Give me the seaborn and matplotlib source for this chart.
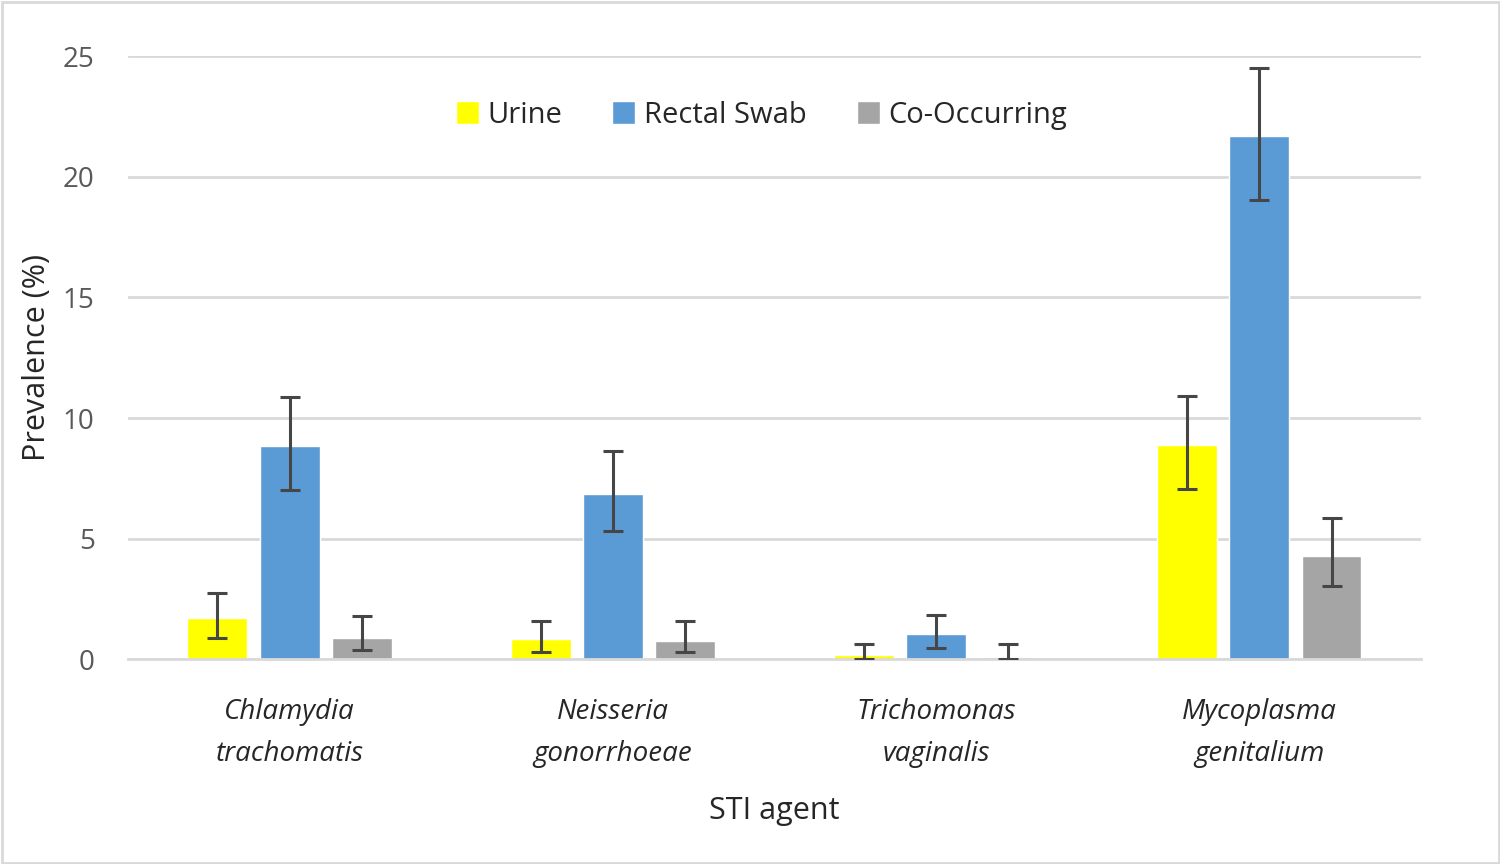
import numpy as np
import pandas as pd
import matplotlib.pyplot as plt
import seaborn as sns
from matplotlib.patches import Rectangle

# Données
agents = ["Chlamydia\ntrachomatis", "Neisseria\ngonorrhoeae", "Trichomonas\nvaginalis", "Mycoplasma\ngenitalium"]
groupes = ["Urine", "Rectal Swab", "Co-Occurring"]

urine = [1.7, 0.85, 0.18, 8.9]
rectal = [8.85, 6.85, 1.05, 21.7]
co_occ = [0.9, 0.75, 0.08, 4.3]

# bornes des intervalles (basse, haute)
urine_lo = [0.9, 0.3, 0.0, 7.05]
urine_hi = [2.75, 1.6, 0.65, 10.9]
rectal_lo = [7.0, 5.3, 0.45, 19.05]
rectal_hi = [10.85, 8.65, 1.85, 24.5]
co_lo = [0.4, 0.3, 0.0, 3.05]
co_hi = [1.8, 1.6, 0.65, 5.85]

couleurs = ["#FFFF00", "#5B9BD5", "#A5A5A5"]

df = pd.DataFrame({
    "agent": agents * 3,
    "groupe": np.repeat(groupes, 4),
    "valeur": urine + rectal + co_occ,
    "lo": urine_lo + rectal_lo + co_lo,
    "hi": urine_hi + rectal_hi + co_hi,
})

sns.set_style("white")
plt.rcParams['font.family'] = ['Open Sans', 'DejaVu Sans']

fig, ax = plt.subplots(figsize=(15, 8.64), dpi=100)
fig.subplots_adjust(left=0.0853, right=0.9473, top=0.935, bottom=0.237)

sns.barplot(data=df, x="agent", y="valeur", hue="groupe", hue_order=groupes,
            palette=couleurs, width=0.67, gap=0.17, errorbar=None, ax=ax,
            saturation=1, legend=True)

# barres d'erreur asymétriques
for i, g in enumerate(groupes):
    cont = ax.containers[i]
    sub = df[df["groupe"] == g]
    for bar, (_, row) in zip(cont, sub.iterrows()):
        xc = bar.get_x() + bar.get_width() / 2
        ax.errorbar(xc, row["valeur"],
                    yerr=[[row["valeur"] - row["lo"]], [row["hi"] - row["valeur"]]],
                    fmt="none", ecolor="#464646", elinewidth=2.2, capsize=7, capthick=2.2, zorder=5)

ax.set_ylim(0, 25)
ax.set_yticks([0, 5, 10, 15, 20, 25])
ax.set_xlim(-0.5, 3.5)
ax.yaxis.grid(True, color="#D9D9D9", linewidth=2)
ax.set_axisbelow(True)
for s in ["top", "right", "left"]:
    ax.spines[s].set_visible(False)
ax.spines["bottom"].set_color("#D9D9D9")
ax.spines["bottom"].set_linewidth(2)
ax.tick_params(axis="y", labelsize=20, labelcolor="#595959", length=0, pad=24)
ax.tick_params(axis="x", length=0, pad=28)
for lab in ax.get_xticklabels():
    lab.set_fontsize(20)
    lab.set_fontstyle("italic")
    lab.set_linespacing(1.65)

ax.set_xlabel("STI agent", fontsize=22, labelpad=20)
ax.set_ylabel("Prevalence (%)", fontsize=22, labelpad=8)

ax.legend(loc="upper center", bbox_to_anchor=(0.49, 0.97), ncol=3, frameon=False,
          fontsize=21, handlelength=0.8, handleheight=0.8, handletextpad=0.3,
          columnspacing=1.7, title=None)

# cadre gris autour de la figure
fig.patches.append(Rectangle((0.001, 0.001), 0.998, 0.997, transform=fig.transFigure,
                             fill=False, edgecolor="#D9D9D9", linewidth=2))

plt.savefig("out.png", dpi=100)
plt.close()
